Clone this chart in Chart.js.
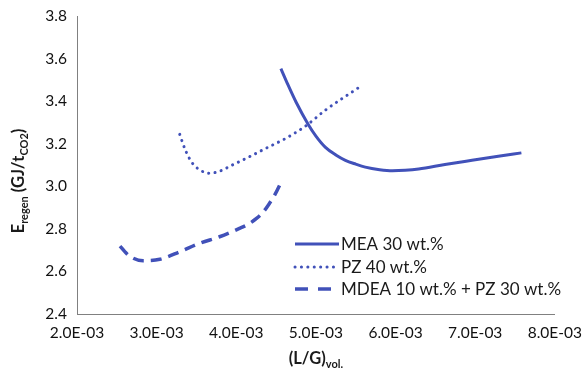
<!DOCTYPE html>
<html>
<head>
<meta charset="utf-8">
<script src="https://cdn.jsdelivr.net/npm/chart.js@4"></script>
<style>
  html, body { margin: 0; padding: 0; background: #fff; }
  #wrap { width: 587px; height: 376px; }
</style>
</head>
<body>
<div id="wrap"><canvas id="c" width="587" height="376"></canvas></div>
<script>
// Regeneration energy vs. volumetric liquid/gas ratio for three solvents
const seriesLabels = ['MEA 30 wt.%', 'PZ 40 wt.%', 'MDEA 10 wt.% + PZ 30 wt.%'];

const meaX = [4.56e-3, 4.65e-3, 4.75e-3, 4.90e-3, 5.00e-3, 5.12e-3, 5.25e-3, 5.37e-3, 5.50e-3, 5.62e-3, 5.80e-3, 5.96e-3, 6.12e-3, 6.29e-3, 6.62e-3, 6.96e-3, 7.29e-3, 7.58e-3];
const meaY = [3.553, 3.476, 3.396, 3.293, 3.236, 3.183, 3.147, 3.122, 3.104, 3.090, 3.078, 3.073, 3.075, 3.081, 3.102, 3.122, 3.141, 3.157];

const pzX = [3.29e-3, 3.33e-3, 3.37e-3, 3.45e-3, 3.56e-3, 3.66e-3, 3.79e-3, 3.95e-3, 4.16e-3, 4.37e-3, 4.62e-3, 4.87e-3, 5.12e-3, 5.53e-3];
const pzY = [3.244, 3.200, 3.162, 3.108, 3.073, 3.061, 3.071, 3.100, 3.138, 3.178, 3.225, 3.283, 3.358, 3.462];

const blendX = [2.54e-3, 2.60e-3, 2.66e-3, 2.83e-3, 3.04e-3, 3.29e-3, 3.54e-3, 3.79e-3, 4.04e-3, 4.16e-3, 4.25e-3, 4.34e-3, 4.41e-3, 4.49e-3, 4.56e-3];
const blendY = [2.719, 2.693, 2.672, 2.650, 2.657, 2.692, 2.732, 2.763, 2.802, 2.824, 2.848, 2.880, 2.916, 2.964, 3.017];

const xTickLabels = ['2.0E-03', '3.0E-03', '4.0E-03', '5.0E-03', '6.0E-03', '7.0E-03', '8.0E-03'];
const yTickLabels = ['2.4', '2.6', '2.8', '3.0', '3.2', '3.4', '3.6', '3.8'];

const BLUE = '#4151b9';
const FONT = 'Lato, "Open Sans", sans-serif';

function pts(xs, ys) { return xs.map((x, i) => ({ x: x, y: ys[i] })); }

// axis titles with subscripts plus an in-plot legend
const annotations = {
  id: 'annotations',
  afterDraw(chart) {
    const ctx = chart.ctx;
    ctx.save();
    ctx.fillStyle = '#1a1a1a';
    ctx.textBaseline = 'alphabetic';

    function runWidth(parts) {
      let w = 0;
      parts.forEach(p => { ctx.font = p.font; w += ctx.measureText(p.t).width; });
      return w;
    }
    function drawRun(parts, x, y) {
      parts.forEach(p => {
        ctx.font = p.font;
        ctx.fillText(p.t, x, y + (p.dy || 0));
        x += ctx.measureText(p.t).width;
      });
    }
    const big = 'bold 16.5px ' + FONT;
    const sub = 'bold 11px ' + FONT;

    // y-axis title
    const yParts = [
      { t: 'E', font: big }, { t: 'regen', font: sub, dy: 4 },
      { t: ' (GJ/t', font: big }, { t: 'CO2', font: sub, dy: 4 }, { t: ')', font: big }
    ];
    ctx.save();
    ctx.translate(24, 181);
    ctx.rotate(-Math.PI / 2);
    drawRun(yParts, -runWidth(yParts) / 2, 0);
    ctx.restore();

    // x-axis title
    const xParts = [{ t: '(L/G)', font: big }, { t: 'vol.', font: sub, dy: 4 }];
    const ca = chart.chartArea;
    drawRun(xParts, (ca.left + ca.right) / 2 - runWidth(xParts) / 2, 364);

    // legend
    const rows = [244, 267, 289];
    chart.data.datasets.forEach((ds, i) => {
      const y = rows[i];
      ctx.save();
      ctx.strokeStyle = ds.borderColor;
      ctx.lineWidth = ds.borderWidth;
      ctx.lineCap = ds.borderCapStyle || 'butt';
      ctx.setLineDash(ds.legendDash || []);
      ctx.beginPath();
      ctx.moveTo(295, y);
      ctx.lineTo(339, y);
      ctx.stroke();
      ctx.restore();
      ctx.font = '17px ' + FONT;
      ctx.textBaseline = 'middle';
      ctx.fillStyle = '#1a1a1a';
      ctx.fillText(ds.label, 341, y + 1);
    });
    ctx.restore();
  }
};

new Chart(document.getElementById('c'), {
  type: 'line',
  data: {
    datasets: [
      {
        label: seriesLabels[0], data: pts(meaX, meaY),
        borderColor: BLUE, borderWidth: 3, cubicInterpolationMode: 'monotone',
        pointRadius: 0, fill: false
      },
      {
        label: seriesLabels[1], data: pts(pzX, pzY),
        borderColor: BLUE, borderWidth: 3, cubicInterpolationMode: 'monotone',
        borderDash: [0.1, 6.3], borderCapStyle: 'round', legendDash: [0.1, 6.3],
        pointRadius: 0, fill: false
      },
      {
        label: seriesLabels[2], data: pts(blendX, blendY),
        borderColor: BLUE, borderWidth: 3.5, cubicInterpolationMode: 'monotone',
        borderDash: [11, 7], legendDash: [13, 10],
        pointRadius: 0, fill: false
      }
    ]
  },
  options: {
    responsive: false,
    animation: false,
    layout: { padding: { top: 16, right: 30, left: 0, bottom: 0 } },
    plugins: { legend: { display: false }, tooltip: { enabled: false } },
    scales: {
      x: {
        type: 'linear', min: 0.002, max: 0.008,
        afterBuildTicks(scale) {
          scale.ticks = xTickLabels.map((_, i) => ({ value: 0.002 + i * 0.001 }));
        },
        afterFit(scale) { scale.height = 62; },
        grid: { display: false, drawOnChartArea: false, drawTicks: true, tickLength: 5, tickColor: '#808080' },
        border: { display: true, color: '#808080', width: 1 },
        ticks: {
          autoSkip: false, maxRotation: 0, minRotation: 0, padding: 5,
          color: '#111', font: { family: FONT, size: 15.5 },
          callback: (v, i) => xTickLabels[i]
        }
      },
      y: {
        type: 'linear', min: 2.4, max: 3.8,
        afterBuildTicks(scale) {
          scale.ticks = yTickLabels.map((_, i) => ({ value: 2.4 + i * 0.2 }));
        },
        afterFit(scale) { scale.width = 77; },
        grid: { display: false, drawOnChartArea: false, drawTicks: true, tickLength: 5, tickColor: '#808080' },
        border: { display: true, color: '#808080', width: 1 },
        ticks: {
          autoSkip: false, padding: 5,
          color: '#111', font: { family: FONT, size: 15.5 },
          callback: (v, i) => yTickLabels[i]
        }
      }
    }
  },
  plugins: [annotations]
});
</script>
</body>
</html>
